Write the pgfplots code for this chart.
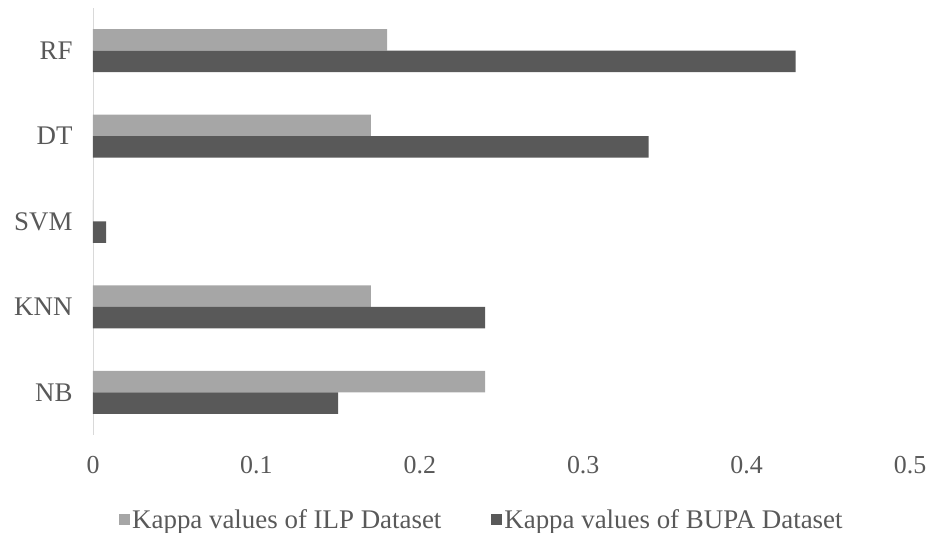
\documentclass[border=0pt]{standalone}
\usepackage{pgfplots}
\pgfplotsset{compat=1.18}
\usepackage{fontspec}
\setmainfont{Liberation Serif}
\definecolor{ilp}{RGB}{166,166,166}
\definecolor{bupa}{RGB}{89,89,89}
\definecolor{txt}{RGB}{89,89,89}
\definecolor{axisline}{RGB}{217,217,217}

\begin{document}
\begin{tikzpicture}[x=1bp,y=1bp]
\begin{axis}[
  at={(0,0)}, anchor=south west,
  width=817bp, height=427bp, scale only axis,
  xmin=0, xmax=0.5, ymin=-0.5, ymax=4.5,
  xtick={0,0.1,0.2,0.3,0.4,0.5},
  xticklabels={0,0.1,0.2,0.3,0.4,0.5},
  ytick={0,1,2,3,4},
  yticklabels={NB,KNN,SVM,DT,RF},
  axis lines*=left,
  x axis line style={draw=none},
  y axis line style={draw=axisline, line width=0.8bp},
  major tick length=0pt,
  tick style={draw=none},
  font=\fontsize{27}{31}\selectfont,
  ticklabel style={text=txt},
  xticklabel style={yshift=-18bp, font=\fontsize{26}{30}\selectfont},
  yticklabel style={xshift=-17bp, font=\fontsize{27}{31}\selectfont},
  xbar, bar width=21.5bp,
  legend columns=2,
  legend style={draw=none, fill=none, text=txt,
    font=\fontsize{27}{31}\selectfont,
    at={(axis description cs:0.476,-0.199)}, anchor=center,
    /tikz/every even column/.append style={column sep=48bp}},
  legend image code/.code={\fill[#1] (0bp,-5.5bp) rectangle (11bp,5.5bp);},
]
\addplot[fill=ilp, draw=none, bar shift=10.75bp] coordinates {
  (0.24,0) (0.17,1) (0,2) (0.17,3) (0.18,4)};
\addlegendentry{Kappa values of ILP Dataset}
\addplot[fill=bupa, draw=none, bar shift=-10.75bp] coordinates {
  (0.15,0) (0.24,1) (0.008,2) (0.34,3) (0.43,4)};
\addlegendentry{Kappa values of BUPA Dataset}
\end{axis}
\pgfresetboundingbox
\path[use as bounding box] (-93,-98) rectangle (838,435);
\end{tikzpicture}
\end{document}
